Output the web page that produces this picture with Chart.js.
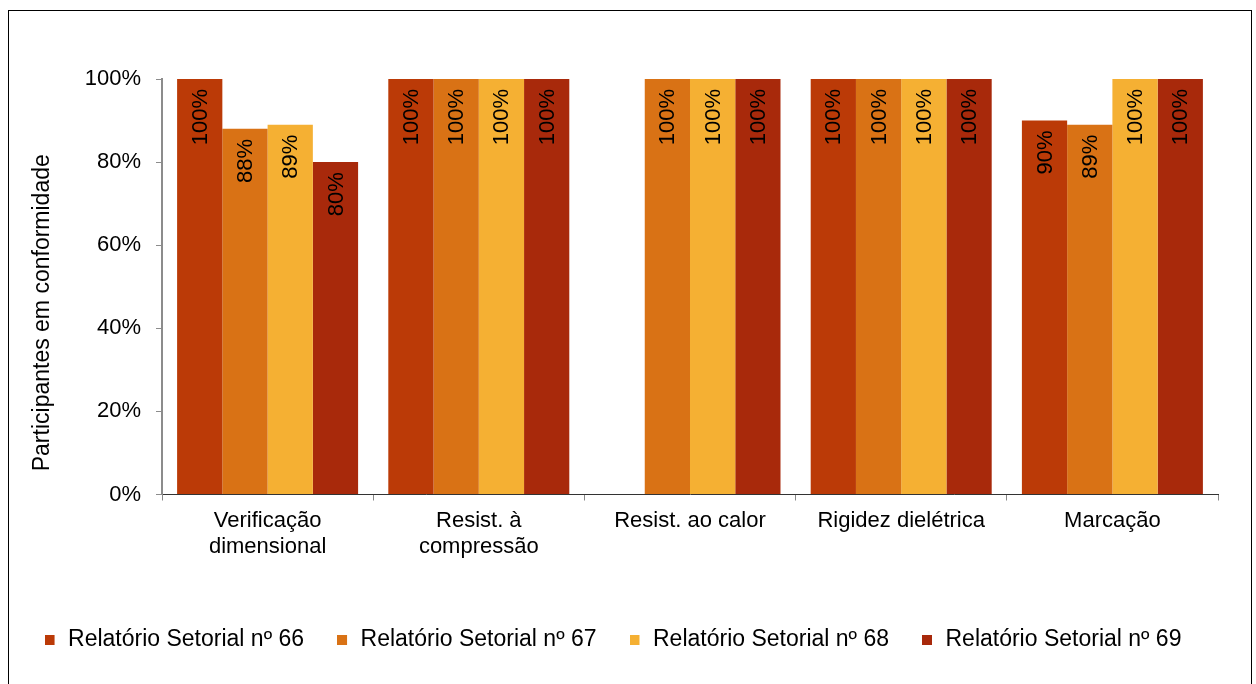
<!DOCTYPE html>
<html lang="pt">
<head>
<meta charset="utf-8">
<title>Participantes em conformidade</title>
<script src="https://cdn.jsdelivr.net/npm/chart.js@4/dist/chart.umd.min.js"></script>
<style>
  html, body { margin: 0; padding: 0; background: #fff; }
  #wrap { position: relative; width: 1256px; height: 684px; overflow: hidden; }
  #frame { position: absolute; left: 8px; top: 10px; width: 1244px; height: 690px;
           border: 1px solid #000; box-sizing: border-box; pointer-events: none; }
  canvas { position: absolute; left: 0; top: 0; }
</style>
</head>
<body>
<div id="wrap">
  <canvas id="c" width="1256" height="684"></canvas>
  <div id="frame"></div>
</div>
<script>
// Categories (ensaios) and conformity per sector report, in percent
const categories = [
  ['Verificação', 'dimensional'],
  ['Resist. à', 'compressão'],
  'Resist. ao calor',
  'Rigidez dielétrica',
  'Marcação'
];
const seriesNames = [
  'Relatório Setorial nº 66',
  'Relatório Setorial nº 67',
  'Relatório Setorial nº 68',
  'Relatório Setorial nº 69'
];
const rs66 = [100, 100, null, 100, 90];
const rs67 = [88, 100, 100, 100, 89];
const rs68 = [89, 100, 100, 100, 100];
const rs69 = [80, 100, 100, 100, 100];
const yTicks = [0, 20, 40, 60, 80, 100];
const yTitle = 'Participantes em conformidade';

const colors = ['#BB3A07', '#D97215', '#F5B033', '#A8290B'];
const FONT = "'Liberation Sans', Arial, sans-serif";

// Legend swatch: small square on the left of a wider transparent strip
function swatch(color) {
  const cv = document.createElement('canvas');
  cv.width = 12; cv.height = 10;
  const g = cv.getContext('2d');
  g.fillStyle = color;
  g.fillRect(0, 0, 10, 10);
  return cv;
}
const swatches = colors.map(swatch);

const seriesData = [rs66, rs67, rs68, rs69];
const datasets = seriesData.map((d, i) => ({
  label: seriesNames[i],
  data: d,
  backgroundColor: colors[i],
  borderWidth: 0,
  categoryPercentage: 0.857,
  barPercentage: 1.0
}));

// Rotated value labels inside the top of each bar
const barValueLabels = {
  id: 'barValueLabels',
  afterDatasetsDraw(chart) {
    const ctx = chart.ctx;
    ctx.save();
    ctx.font = '22px ' + FONT;
    ctx.fillStyle = '#000';
    ctx.textAlign = 'right';
    ctx.textBaseline = 'middle';
    chart.data.datasets.forEach((ds, di) => {
      const meta = chart.getDatasetMeta(di);
      meta.data.forEach((bar, i) => {
        const v = ds.data[i];
        if (v === null || v === undefined) return;
        ctx.save();
        ctx.translate(bar.x, bar.y + 10);
        ctx.rotate(-Math.PI / 2);
        ctx.fillText(v + '%', 0, 1);
        ctx.restore();
      });
    });
    ctx.restore();
  }
};

// Vertical axis title
const axisTitle = {
  id: 'axisTitle',
  afterDraw(chart) {
    const ctx = chart.ctx;
    const area = chart.chartArea;
    ctx.save();
    ctx.font = '23px ' + FONT;
    ctx.fillStyle = '#000';
    ctx.textAlign = 'center';
    ctx.textBaseline = 'alphabetic';
    ctx.translate(49, (area.top + area.bottom) / 2 + 26);
    ctx.rotate(-Math.PI / 2);
    ctx.fillText(yTitle, 0, 0);
    ctx.restore();
  }
};

new Chart(document.getElementById('c'), {
  type: 'bar',
  data: { labels: categories, datasets },
  plugins: [barValueLabels, axisTitle],
  options: {
    responsive: false,
    animation: false,
    devicePixelRatio: 1,
    layout: { padding: { left: 8, top: 79, right: 38, bottom: 23 } },
    plugins: {
      tooltip: { enabled: false },
      title: { display: false },
      legend: {
        position: 'bottom',
        align: 'center',
        labels: {
          usePointStyle: true,
          pointStyleWidth: 12,
          boxHeight: 10,
          padding: 33,
          color: '#000',
          font: { family: FONT, size: 23 },
          generateLabels: (chart) => chart.data.datasets.map((ds, i) => ({
            text: ds.label,
            fillStyle: ds.backgroundColor,
            strokeStyle: ds.backgroundColor,
            lineWidth: 0,
            pointStyle: swatches[i],
            hidden: false,
            datasetIndex: i
          }))
        }
      }
    },
    scales: {
      x: {
        afterFit: (scale) => { scale.height = 100.5; },
        grid: {
          display: true,
          drawOnChartArea: false,
          drawTicks: true,
          tickLength: 6,
          color: '#888',
          offset: true
        },
        border: { display: true, color: '#333', width: 1 },
        ticks: {
          color: '#000',
          padding: 7,
          maxRotation: 0,
          autoSkip: false,
          font: { family: FONT, size: 22, lineHeight: 1.2 }
        }
      },
      y: {
        min: 0,
        max: 100,
        afterFit: (scale) => { scale.width = 154; },
        afterBuildTicks: (scale) => { scale.ticks = yTicks.map(v => ({ value: v })); },
        grid: {
          display: true,
          drawOnChartArea: false,
          drawTicks: true,
          tickLength: 6,
          color: '#8c8c8c'
        },
        border: { display: true, color: '#8c8c8c', width: 2 },
        ticks: {
          color: '#000',
          padding: 15,
          font: { family: FONT, size: 22 },
          callback: (v) => v + '%'
        }
      }
    }
  }
});
</script>
</body>
</html>
